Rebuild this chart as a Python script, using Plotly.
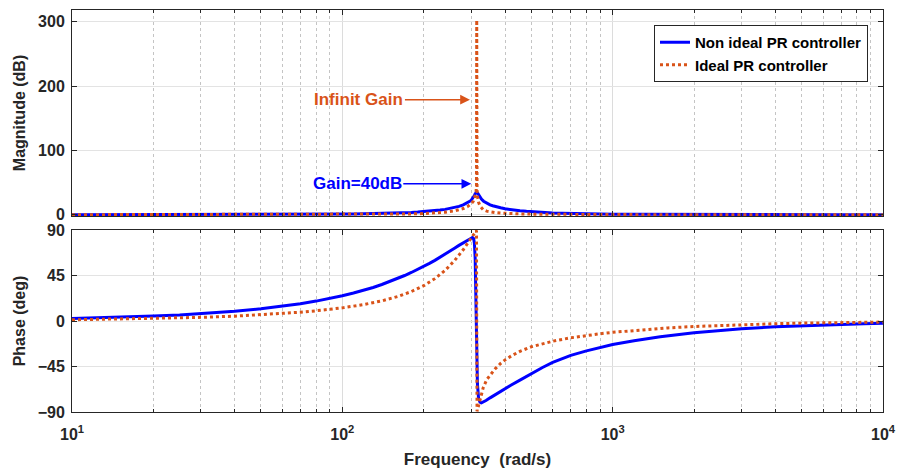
import plotly.graph_objects as go

# ---------------- data ----------------
freq_nonideal = [10, 15, 20, 25, 30, 40, 50, 60, 70, 80,
                 90, 100, 110, 120, 130, 140, 150, 160, 170, 180,
                 190, 200, 210, 220, 230, 240, 250, 260, 270, 280,
                 290, 296, 300, 303, 306, 308, 310, 312, 314, 316,
                 319, 323, 327, 333, 340, 352, 360, 370, 385, 400,
                 420, 454, 480, 500, 550, 600, 650, 700, 800, 900,
                 1000, 1200, 1500, 2000, 2500, 3000, 4000, 5000, 6000, 7000,
                 8500, 10000]
mag_nonideal = [0.01, 0.017, 0.03, 0.05, 0.07, 0.125, 0.195, 0.285, 0.4, 0.525,
                0.675, 0.85, 1.05, 1.29, 1.55, 1.86, 2.2, 2.6, 3.03, 3.5,
                4.1, 4.74, 5.5, 6.3, 7.2, 8.3, 9.6, 11.1, 12.9, 15.2,
                18.3, 20.8, 22.8, 24.8, 27.5, 29.8, 32.5, 34.5, 35.2, 34.2,
                31.5, 27.5, 24.2, 21.0, 18.5, 15.3, 13.9, 12.3, 10.7, 9.2,
                7.8, 6.1, 5.2, 4.6, 3.6, 2.8, 2.3, 1.9, 1.4, 1.05,
                0.83, 0.57, 0.36, 0.19, 0.12, 0.08, 0.047, 0.03, 0.02, 0.015,
                0.01, 0.007]
phase_nonideal = [2.5, 3.7, 4.9, 6.0, 7.2, 9.6, 12.1, 14.6, 17.1, 19.7,
                  22.3, 25.0, 27.7, 30.4, 33.2, 36.1, 39.0, 42.0, 45.0, 48.0,
                  51.0, 54.0, 57.0, 60.0, 63.0, 66.0, 69.0, 72.0, 74.8, 77.4,
                  79.8, 81.2, 82.2, 82.6, 81.5, 77, 62, 25, -25, -62,
                  -76, -80.3, -81, -80.2, -78.7, -76, -74.3, -72.3, -69.5, -67,
                  -63.5, -58.5, -54.8, -52, -46, -41, -37.2, -34, -29.5, -26,
                  -23.2, -19.5, -15.6, -11.6, -9.2, -7.6, -5.7, -4.6, -3.8, -3.3,
                  -2.7, -2.3]

freq_ideal = [10, 20, 30, 40, 50, 60, 70, 80, 90, 100,
              120, 140, 160, 180, 200, 220, 240, 260, 280, 290,
              300, 305, 310, 312, 313.5, 314.16, 315, 316, 319, 323,
              327, 332, 342, 355, 367, 385, 400, 425, 454, 500,
              550, 600, 700, 800, 900, 1000, 1300, 1600, 2000, 2500,
              3000, 4000, 5000, 7000, 10000]
mag_ideal = [0.002, 0.008, 0.017, 0.031, 0.049, 0.072, 0.1, 0.134, 0.175, 0.226,
             0.355, 0.54, 0.80, 1.17, 1.73, 2.56, 3.86, 5.95, 9.54, 12.45,
             17.1, 20.9, 27.8, 33.5, 45, 303, 38.3, 29.1, 19.6, 13.6,
             10.2, 7.8, 5.5, 4.2, 3.4, 2.58, 2.13, 1.63, 1.25, 0.88,
             0.69, 0.54, 0.37, 0.27, 0.21, 0.17, 0.1, 0.06, 0.04, 0.025,
             0.017, 0.01, 0.006, 0.003, 0.001]
phase_ideal = [1.2, 2.4, 3.6, 4.8, 6.1, 7.4, 8.7, 10.1, 11.5, 13.0,
               16.3, 19.9, 24.2, 29.1, 34.9, 41.9, 50.1, 59.7, 70.5, 76.2,
               82.0, 84.8, 87.7, 88.8, 89.6, 0, -89.3, -88, -84, -78,
               -72, -66, -58, -52, -47.5, -42, -38.5, -34, -30, -25.5,
               -22.5, -20, -16.6, -14.3, -12.6, -11.2, -8.5, -6.8, -5.4, -4.3,
               -3.6, -2.7, -2.1, -1.5, -1.05]

mag_ticks = [0, 100, 200, 300]
phase_ticks = [-90, -45, 0, 45, 90]
freq_ticks = [10, 100, 1000, 10000]
freq_ticktext = ["10<sup>1</sup>", "10<sup>2</sup>", "10<sup>3</sup>", "10<sup>4</sup>"]

names = ["Non ideal PR controller", "Ideal PR controller"]
BLUE = "#0000ff"
ORANGE = "#d95319"
FONT = "Liberation Sans, Arial, sans-serif"
AXC = "#262626"

fig = go.Figure()
fig.add_trace(go.Scatter(x=freq_nonideal, y=mag_nonideal, mode="lines", name=names[0],
                         line=dict(color=BLUE, width=3), xaxis="x", yaxis="y"))
fig.add_trace(go.Scatter(x=freq_ideal, y=mag_ideal, mode="lines", name=names[1],
                         line=dict(color=ORANGE, width=3, dash="dot"), xaxis="x", yaxis="y"))
fig.add_trace(go.Scatter(x=freq_nonideal, y=phase_nonideal, mode="lines", showlegend=False,
                         line=dict(color=BLUE, width=3), xaxis="x2", yaxis="y2"))
fig.add_trace(go.Scatter(x=freq_ideal, y=phase_ideal, mode="lines", showlegend=False,
                         line=dict(color=ORANGE, width=3, dash="dot"), xaxis="x2", yaxis="y2"))

minor = dict(dtick="D1", showgrid=True, griddash="dot", gridcolor="#c4c4c4", gridwidth=1,
             ticks="inside", ticklen=3, tickcolor=AXC)
common_x = dict(type="log", range=[1, 4], tickvals=freq_ticks, ticks="inside", ticklen=5,
                tickcolor=AXC, showline=True, linecolor=AXC, linewidth=1, mirror="ticks",
                showgrid=True, gridcolor="#dcdcdc", gridwidth=1, minor=minor, zeroline=False,
                automargin=False)
common_y = dict(ticks="inside", ticklen=5, tickcolor=AXC, showline=True, linecolor=AXC,
                linewidth=1, mirror="ticks", showgrid=True, gridcolor="#e3e3e3", gridwidth=1,
                zeroline=False, automargin=False, ticklabelstandoff=3,
                tickfont=dict(family=FONT, size=16, color="#262626", weight="bold"))

fig.update_layout(
    width=898, height=473,
    margin=dict(l=72, r=15, t=10, b=61),
    paper_bgcolor="white", plot_bgcolor="white",
    font=dict(family=FONT, color="#262626"),
    xaxis=dict(domain=[0, 1], anchor="y", showticklabels=False, **common_x),
    yaxis=dict(domain=[0.4876, 1], anchor="x", range=[-2, 318.5], tickvals=mag_ticks,
               title=dict(text="Magnitude (dB)", font=dict(family=FONT, size=16, weight="bold"),
                          standoff=8),
               **common_y),
    xaxis2=dict(domain=[0, 1], anchor="y2", ticktext=freq_ticktext, ticklabelstandoff=8,
                tickfont=dict(family=FONT, size=16, color="#262626", weight="bold"),
                title=dict(text="Frequency \u00a0(rad/s)",
                           font=dict(family=FONT, size=17, weight="bold"), standoff=10),
                **common_x),
    yaxis2=dict(domain=[0, 0.4527], anchor="x2", range=[-90, 90], tickvals=phase_ticks,
                title=dict(text="Phase (deg)", font=dict(family=FONT, size=16, weight="bold"),
                           standoff=8),
                **common_y),
    legend=dict(x=0.9815, y=0.9627, xanchor="right", yanchor="top", bgcolor="white",
                bordercolor=AXC, borderwidth=1,
                font=dict(family=FONT, size=15, color="black", weight="bold"),
                tracegroupgap=0, itemwidth=30),
    showlegend=True,
)

fig.add_annotation(x=2.472, y=179, xref="x", yref="y", text="Infinit Gain", showarrow=True,
                   ax=-111, ay=0, arrowhead=2, arrowsize=1.3, arrowwidth=1.5,
                   arrowcolor=ORANGE, font=dict(family=FONT, size=17, color=ORANGE, weight="bold"))
fig.add_annotation(x=2.477, y=48, xref="x", yref="y", text="Gain=40dB", showarrow=True,
                   ax=-114, ay=0, arrowhead=2, arrowsize=1.3, arrowwidth=1.5,
                   arrowcolor=BLUE, font=dict(family=FONT, size=17, color=BLUE, weight="bold"))

fig.write_html("out.html")
